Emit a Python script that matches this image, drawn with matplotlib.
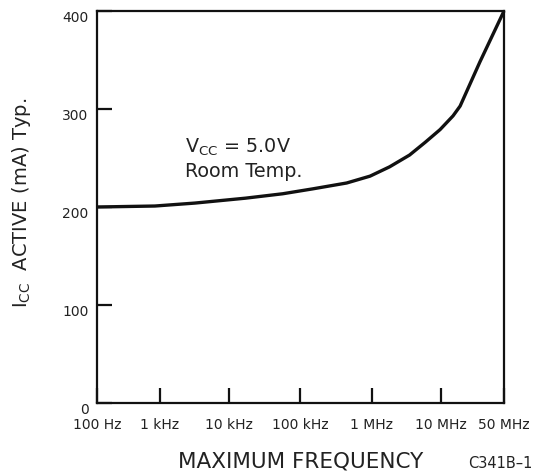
import numpy as np
import matplotlib
matplotlib.use("Agg")
import matplotlib.pyplot as plt
import matplotlib.transforms as mtransforms

# ---- data ----
freq_hz = [100, 830, 3.2e3, 1.7e4, 5.7e4, 1.5e5, 4.45e5, 9.4e5, 1.8e6, 3.5e6, 5.9e6,
           9.7e6, 1.36e7, 1.63e7, 2.7e7, 5e7]
icc_ma = [200, 201, 204, 209, 213.5, 218.5, 224.5, 231.5, 241, 253, 266,
          279, 293, 303, 348, 400]

xtick_vals = [100, 1e3, 1e4, 1e5, 1e6, 1e7, 5e7]
xtick_labels = ["100 Hz", "1 kHz", "10 kHz", "100 kHz", "1 MHz", "10 MHz", "50 MHz"]
ytick_vals = [0, 100, 200, 300, 400]

plt.rcParams['font.family'] = ['DejaVu Sans']
plt.rcParams['mathtext.default'] = 'regular'

# piecewise log scale (decades are not quite evenly spaced on the original)
anchor_log = np.array([2, 3, 4, 5, 6, 7, np.log10(5e7)])
anchor_pos = np.array([0, 63, 132, 203, 275, 344, 407]) / 407.0

def fwd(x):
    x = np.asarray(x, dtype=float)
    lx = np.log10(np.clip(x, 1e-12, None))
    return np.interp(lx, anchor_log, anchor_pos)

def inv(p):
    p = np.asarray(p, dtype=float)
    return 10 ** np.interp(p, anchor_pos, anchor_log)

fig = plt.figure(figsize=(5.47, 4.76), dpi=100)
ax = fig.add_axes([97/547, 1 - 403/476, 407/547, 392/476])

ax.set_xscale('function', functions=(fwd, inv))
ax.set_xlim(100, 5e7)
ax.set_ylim(0, 400)

ax.plot(freq_hz, icc_ma, color='#111111', lw=2.4, clip_on=False,
        solid_joinstyle='round', solid_capstyle='butt')

for s in ax.spines.values():
    s.set_linewidth(1.6)
    s.set_color('#111111')

ax.set_xticks(xtick_vals)
ax.set_xticklabels(xtick_labels)
ax.xaxis.set_minor_locator(matplotlib.ticker.NullLocator())
ax.set_yticks(ytick_vals)
ax.tick_params(axis='both', direction='in', length=11, width=1.6, color='#111111',
               labelsize=10, labelcolor='#222222')
ax.tick_params(axis='x', pad=11)
ax.tick_params(axis='y', pad=6)

off = mtransforms.ScaledTranslation(0, -5/100, fig.dpi_scale_trans)
for lab in ax.get_yticklabels():
    lab.set_transform(lab.get_transform() + off)

ax.set_xlabel("MAXIMUM FREQUENCY", fontsize=15.5, color='#222222')
ax.xaxis.set_label_coords(0.5, -0.125)
ax.set_ylabel(r'I$_{\mathregular{CC}}$  ACTIVE (mA) Typ.', fontsize=14, color='#222222')
ax.yaxis.set_label_coords(-0.157, 0.51)

ax.text(0.216, 0.638, r'V$_{\mathregular{CC}}$ = 5.0V', transform=ax.transAxes,
        fontsize=13.8, color='#222222', va='baseline', ha='left')
ax.text(0.216, 0.577, 'Room Temp.', transform=ax.transAxes,
        fontsize=13.8, color='#222222', va='baseline', ha='left')

fig.text(468/547, 1 - 463/476, 'C341B\u20131', fontsize=10.5, color='#222222',
         va='center', ha='left')

fig.savefig('out.png', dpi=100)
